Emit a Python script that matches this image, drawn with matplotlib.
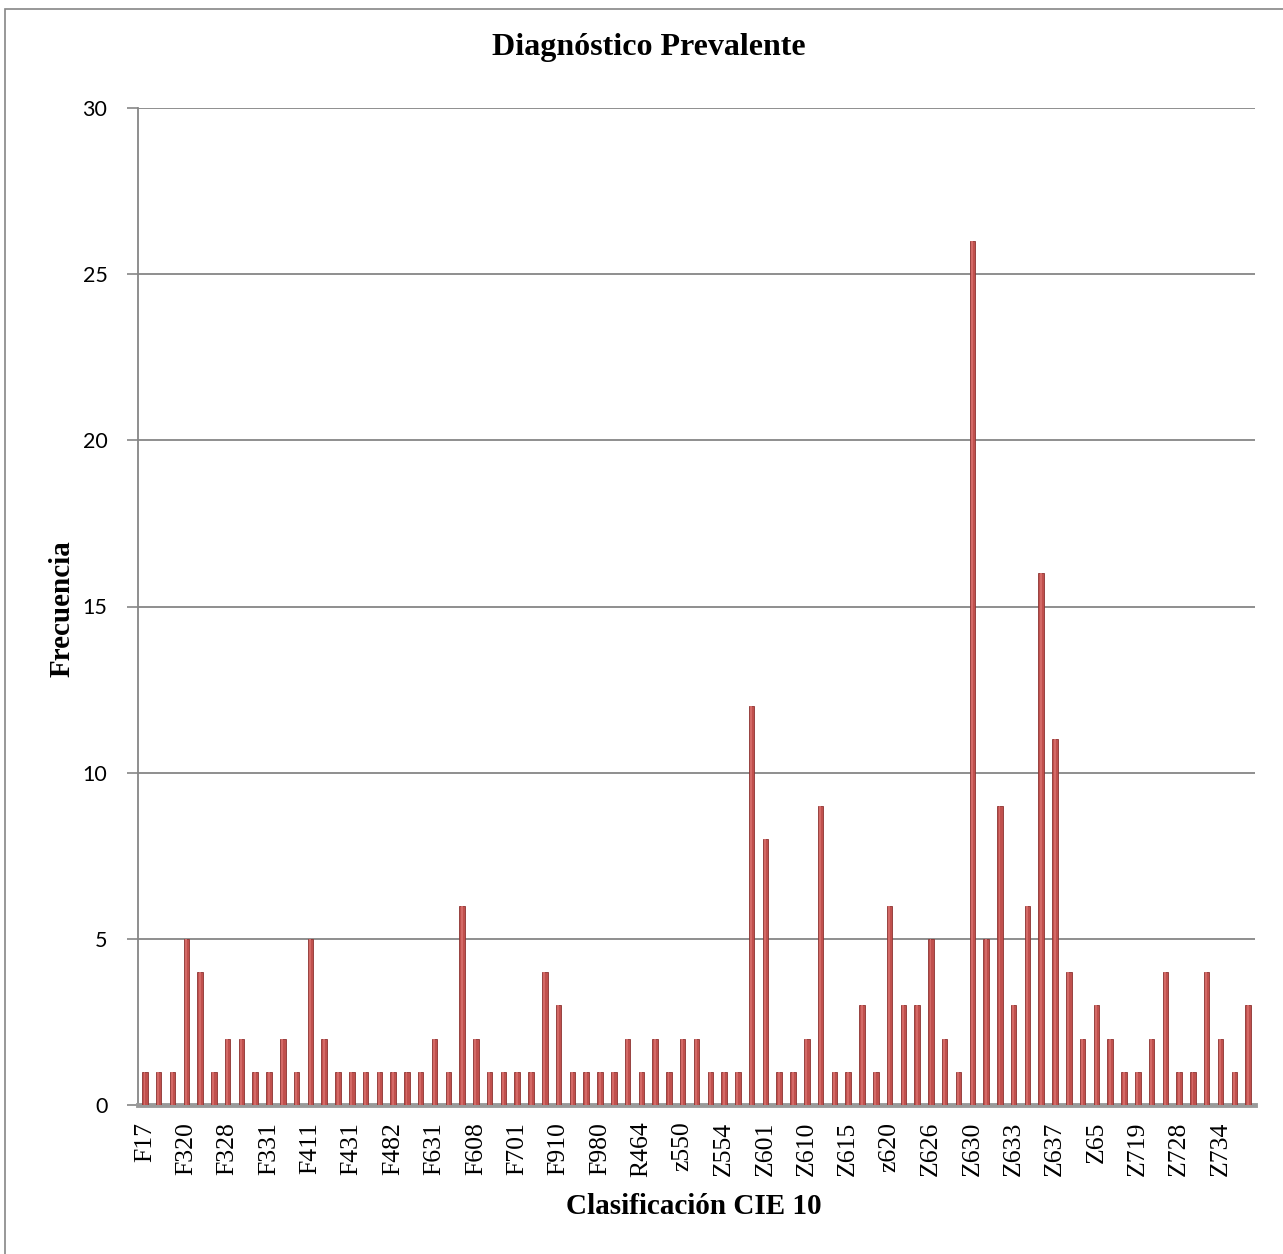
import matplotlib
matplotlib.use("Agg")
import matplotlib.pyplot as plt
import numpy as np
from matplotlib.patches import Rectangle

# CIE 10 codes, one per bar (only every third one is printed on the axis)
codes = ['F17', 'F200', 'F312', 'F320', 'F321', 'F322', 'F328', 'F329', 'F330', 'F331',
         'F332', 'F410', 'F411', 'F412', 'F430', 'F431', 'F432', 'F480', 'F482', 'F600',
         'F603', 'F631', 'F606', 'F607', 'F608', 'F609', 'F700', 'F701', 'F900', 'F909',
         'F910', 'F918', 'F919', 'F980', 'F989', 'R463', 'R464', 'Z030', 'z540', 'z550',
         'Z551', 'Z553', 'Z554', 'Z558', 'Z600', 'Z601', 'Z602', 'Z603', 'Z610', 'Z611',
         'Z612', 'Z615', 'Z616', 'Z618', 'z620', 'Z621', 'Z622', 'Z626', 'Z628', 'Z629',
         'Z630', 'Z631', 'Z632', 'Z633', 'Z634', 'Z635', 'Z637', 'Z638', 'Z639', 'Z65',
         'Z654', 'Z718', 'Z719', 'Z724', 'Z726', 'Z728', 'Z731', 'Z733', 'Z734', 'Z736',
         'Z760']
frecuencia = [1, 1, 1, 5, 4, 1, 2, 2, 1, 1,
              2, 1, 5, 2, 1, 1, 1, 1, 1, 1,
              1, 2, 1, 6, 2, 1, 1, 1, 1, 4,
              3, 1, 1, 1, 1, 2, 1, 2, 1, 2,
              2, 1, 1, 1, 12, 8, 1, 1, 2, 9,
              1, 1, 3, 1, 6, 3, 3, 5, 2, 1,
              26, 5, 9, 3, 6, 16, 11, 4, 2, 3,
              2, 1, 1, 2, 4, 1, 1, 4, 2, 1, 3]
yticks = [0, 5, 10, 15, 20, 25, 30]

serif = ['Liberation Serif', 'DejaVu Serif']
grey = '#868686'

fig = plt.figure(figsize=(12.83, 12.54), dpi=100)
# outer chart border
fig.patches.append(Rectangle((5/1283, -0.01), 1.05, 1 - 9/1254 + 0.01, transform=fig.transFigure,
                             fill=False, edgecolor=grey, linewidth=1.2, zorder=0))

ax = fig.add_axes([138/1283, 1 - 1105/1254, (1255 - 138)/1283, (1105 - 108)/1254])
x = np.arange(len(codes))
ax.bar(x, frecuencia, width=0.4, color='#c0504d', edgecolor='#8c3331', linewidth=0.6, zorder=3)
# lighter core to give the cylinders some shading
ax.bar(x - 0.03, frecuencia, width=0.14, color='#d46a67', linewidth=0, zorder=4)

ax.set_xlim(-0.5, len(codes) - 0.5)
ax.set_ylim(0, 30)
ax.set_yticks(yticks)
ax.set_yticklabels([str(v) for v in yticks], fontsize=15.5, family=['Lato', 'DejaVu Sans'])
ax.yaxis.grid(True, color=grey, linewidth=1.3, zorder=0)
ax.set_axisbelow(True)

ax.set_xticks(x[::3])
ax.set_xticklabels(codes[::3], rotation=90, fontsize=18.5, family=serif)
ax.tick_params(axis='x', length=0, pad=12)
ax.tick_params(axis='y', length=8, color=grey, width=1.2, pad=14)

for s in ['top', 'right']:
    ax.spines[s].set_visible(False)
ax.spines['left'].set_color(grey)
ax.spines['left'].set_linewidth(1.3)
ax.spines['bottom'].set_color('#9a9a9a')
ax.spines['bottom'].set_linewidth(3.5)

fig.text(649/1283, 1 - 48/1254, 'Diagnóstico Prevalente', ha='center', va='center',
         fontsize=23, fontweight='bold', family=serif)
fig.text(694/1283, 1 - 1206/1254, 'Clasificación CIE 10', ha='center', va='center',
         fontsize=21, fontweight='bold', family=serif)
fig.text(62/1283, 1 - 609/1254, 'Frecuencia', ha='center', va='center', rotation=90,
         fontsize=21, fontweight='bold', family=serif)

plt.savefig('out.png', dpi=100)
plt.close()
